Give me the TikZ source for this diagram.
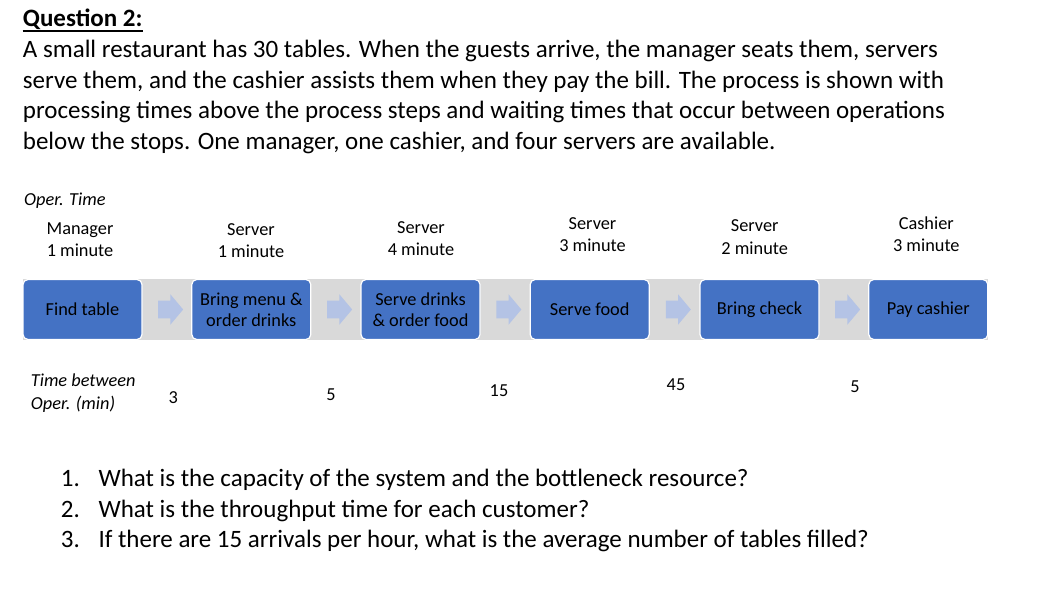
\documentclass[tikz,border=0pt]{standalone}
\usepackage{fontspec}
\setmainfont{Carlito}
\usetikzlibrary{shapes.arrows,calc}
\definecolor{boxblue}{HTML}{4472C4}
\definecolor{bandgray}{HTML}{D9D9D9}
\definecolor{arrowblue}{HTML}{B4C3E5}

\begin{document}
\begin{tikzpicture}[x=1pt,y=-1pt,
	body/.style={anchor=base west,inner sep=0pt,font=\fontsize{25}{30}\selectfont},
	lbl/.style={anchor=base,inner sep=0pt,align=center,font=\fontsize{18.3}{22.4}\selectfont},
	note/.style={anchor=base west,inner sep=0pt,align=left,font=\fontsize{18.3}{22.6}\selectfont\itshape},
	opbox/.style={draw=white,line width=1.2pt,fill=boxblue,rounded corners=5pt,
		minimum width=119pt,minimum height=60pt,inner sep=0pt,align=center,
		font=\fontsize{18.3}{20.7}\selectfont},
	blockarrow/.style={single arrow,fill=arrowblue,draw=none,inner xsep=0pt,inner ysep=8.7pt,
		minimum height=25pt,single arrow head extend=6.3pt,single arrow tip angle=100}]
\useasboundingbox (0,0) rectangle (1054,604);

% question text
\node[body,font=\fontsize{25}{30}\selectfont\bfseries] (q) at (22.7,26.7) {Question 2:};
\draw[line width=1.3pt] ([yshift=-4.3pt]q.base west) -- ([yshift=-4.3pt]q.base east);
\node[body] (p1) at (22.7,57.3) {A small restaurant has 30 tables. When the guests arrive, the manager seats them, servers};
\node[body] (p2) at (22.7,88.3) {serve them, and the cashier assists them when they pay the bill. The process is shown with};
\node[body] (p3) at (22.7,119) {processing times above the process steps and waiting times that occur between operations};
\node[body] (p4) at (22.7,149.3) {below the stops. One manager, one cashier, and four servers are available.};

% process flow
\fill[bandgray] (22.7,279.3) rectangle (988,339.5);
\node[opbox] (find) at (82.5,309.5) {Find table};
\node[opbox] (menu) at (251.3,309.5) {Bring menu \&\\order drinks};
\node[opbox] (drinks) at (420.5,309.5) {Serve drinks\\\& order food};
\node[opbox] (food) at (589.7,309.5) {Serve food};
\node[opbox] (check) at (759.5,309.5) {Bring check};
\node[opbox] (pay) at (928.3,309.5) {Pay cashier};
\foreach \a/\b in {find/menu,menu/drinks,drinks/food,food/check,check/pay}
	\node[blockarrow] (arr-\a) at ($(\a.east)!.5!(\b.west)$) {};

% operation times
\node[note] (optime) at (24,205) {Oper. Time};
\node[lbl] (t-find) at (80,256.7) {Manager\\1 minute};
\node[lbl] (t-menu) at (251,257.7) {Server\\1 minute};
\node[lbl] (t-drinks) at (421,255.7) {Server\\4 minute};
\node[lbl] (t-food) at (592.5,251.7) {Server\\3 minute};
\node[lbl] (t-check) at (754.7,254) {Server\\2 minute};
\node[lbl] (t-pay) at (926.3,251.7) {Cashier\\3 minute};

% waiting times
\node[note] (wait) at (30.7,409.3) {Time between\\Oper. (min)};
\node[lbl] (w1) at (173.3,403.3) {3};
\node[lbl] (w2) at (331,400) {5};
\node[lbl] (w3) at (499,396.7) {15};
\node[lbl] (w4) at (676,390.7) {45};
\node[lbl] (w5) at (855,392.7) {5};

% questions
\node[body] (n1) at (60.7,486.7) {1.};
\node[body] (q1) at (98.3,486.7) {What is the capacity of the system and the bottleneck resource?};
\node[body] (n2) at (60.7,517.3) {2.};
\node[body] (q2) at (98.3,517.3) {What is the throughput time for each customer?};
\node[body] (n3) at (60.7,547.7) {3.};
\node[body] (q3) at (98.3,547.7) {If there are 15 arrivals per hour, what is the average number of tables filled?};

\end{tikzpicture}
\end{document}
